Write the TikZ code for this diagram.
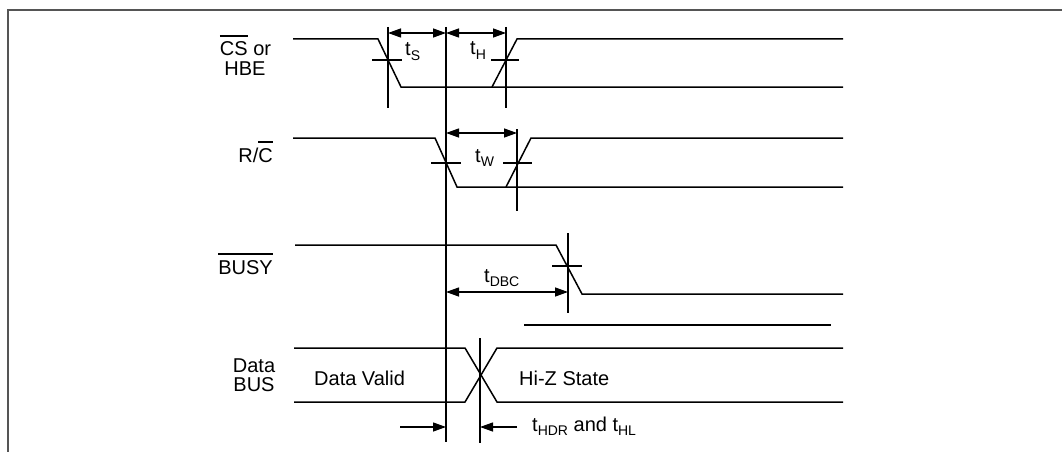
\documentclass[tikz,border=0pt]{standalone}
\usepackage{fontspec}
\setmainfont{Liberation Sans}
\usetikzlibrary{arrows.meta}
\definecolor{framegray}{HTML}{555555}
\newcommand{\sigbar}[1]{\leavevmode\vbox{\hrule height 1.3pt \kern 5.5pt \hbox{#1}}}
\newcommand{\tsub}[1]{t\raisebox{-4.5pt}{\fontsize{14}{15}\selectfont #1}}
\tikzstyle{frame} = [draw = framegray, line width = 2.5pt]
\tikzstyle{sig} = [draw, line width = 1.5pt, line join = miter]
\tikzstyle{guide} = [draw, line width = 1.3pt]
\tikzstyle{dim} = [draw, line width = 1.3pt, {Triangle[length = 13pt, width = 9pt]}-{Triangle[length = 13pt, width = 9pt]}]
\tikzstyle{arrow} = [draw, line width = 1.3pt, -{Triangle[length = 13pt, width = 9pt]}]
\tikzstyle{lbl} = [inner sep = 0pt, font = \fontsize{20}{22}\selectfont]

\begin{document}
\begin{tikzpicture}[x = 1pt, y = -1pt]
    \useasboundingbox (0,0) rectangle (1062,452);
    \draw[frame] (1062,10) -- (8,10) -- (8,452);

    % signal names
    \node[lbl, anchor = base] (cs) at (245.5,56) {\sigbar{CS} or};
    \node[lbl, anchor = base] (hbe) at (245,75) {HBE};
    \node[lbl, anchor = base east] (rc) at (273,162) {R/\sigbar{C}};
    \node[lbl, anchor = base east] (busy) at (273,274) {\sigbar{BUSY}};
    \node[lbl, anchor = base] (data) at (254,372) {Data};
    \node[lbl, anchor = base] (bus) at (254,391) {BUS};

    % waveforms
    \draw[sig] (293,39) -- (378,39) -- (401,87) -- (843,87);
    \draw[sig] (492,87) -- (517,39) -- (843,39);
    \draw[sig] (293,138) -- (435,138) -- (457,187) -- (843,187);
    \draw[sig] (506,187) -- (531,138) -- (843,138);
    \draw[sig] (295,245) -- (556,245) -- (582,294) -- (843,294);
    \draw[sig] (524,325) -- (831,325);
    \draw[sig] (294,348) -- (465,348) -- (497,402) -- (843,402);
    \draw[sig] (294,402) -- (465,402) -- (497,348) -- (843,348);
    \node[lbl, anchor = base west] (valid) at (314,385) {Data Valid};
    \node[lbl, anchor = base west] (hiz) at (519,385) {Hi-Z State};

    % reference lines
    \draw[guide] (446,27) -- (446,442);
    \draw[guide] (388,27) -- (388,108);
    \draw[guide] (372,60) -- (402,60);
    \draw[guide] (506,27) -- (506,108);
    \draw[guide] (491,60) -- (519,60);
    \draw[guide] (431,163) -- (461,163);
    \draw[guide] (517,129) -- (517,211);
    \draw[guide] (503,163) -- (532,163);
    \draw[guide] (568,233) -- (568,313);
    \draw[guide] (552,266) -- (582,266);
    \draw[guide] (480,338) -- (480,443);

    % timing
    \coordinate (s1) at (388,33);
    \coordinate (s2) at (446,33);
    \coordinate (h2) at (506,33);
    \coordinate (w1) at (446,133);
    \coordinate (w2) at (517,133);
    \coordinate (d1) at (446,292);
    \coordinate (d2) at (568,292);
    \coordinate (z1) at (400,427);
    \coordinate (z2) at (446,427);
    \coordinate (z3) at (517,427);
    \coordinate (z4) at (480,427);
    \path[dim] (s1) -- (s2);
    \path[dim] (s2) -- (h2);
    \path[dim] (w1) -- (w2);
    \path[dim] (d1) -- (d2);
    \path[arrow] (z1) -- (z2);
    \path[arrow] (z3) -- (z4);

    \node[lbl, anchor = base west] (ts) at (405,56) {\tsub{S}};
    \node[lbl, anchor = base west] (th) at (470,55) {\tsub{H}};
    \node[lbl, anchor = base west] (tw) at (475,162) {\tsub{W}};
    \node[lbl, anchor = base west] (tdbc) at (484,282) {\tsub{DBC}};
    \node[lbl, anchor = base west] (thdr) at (532,431) {\tsub{HDR} and \tsub{HL}};
\end{tikzpicture}
\end{document}
